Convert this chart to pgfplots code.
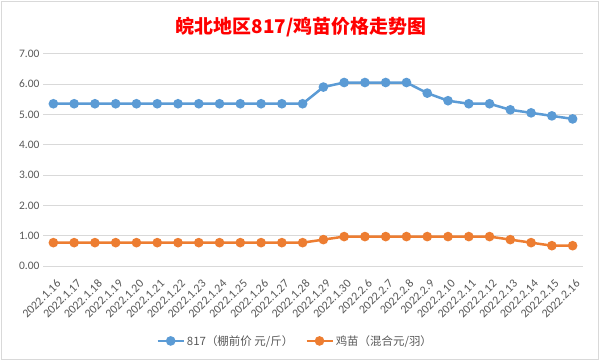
\documentclass[border=0pt]{standalone}
\usepackage{pgfplots}
\pgfplotsset{compat=1.18}
\usepackage{fontspec}
\setmainfont{Carlito}
\newfontfamily\cjk{Noto Sans CJK SC}
\definecolor{bluec}{HTML}{5B9BD5}
\definecolor{orangec}{HTML}{ED7D31}
\definecolor{gridc}{HTML}{D9D9D9}
\definecolor{txt}{HTML}{595959}
\begin{document}
\begin{tikzpicture}[x=1bp,y=1bp]
\path[use as bounding box, fill=white] (0,0) rectangle (602,363);
\draw[gridc, line width=0.75bp] (1.5,3.5) rectangle (598.5,361.5);
\begin{axis}[
  at={(43bp,97bp)}, anchor=south west,
  scale only axis, width=540bp, height=212.3bp,
  xmin=-0.5, xmax=25.5, ymin=0, ymax=7,
  axis line style={draw=none},
  ymajorgrids, grid style={gridc, line width=0.75bp},
  ytick={0,1,2,3,4,5,6,7},
  xtick={0,...,25},
  xticklabels={2022.1.16,2022.1.17,2022.1.18,2022.1.19,2022.1.20,2022.1.21,2022.1.22,2022.1.23,2022.1.24,2022.1.25,2022.1.26,2022.1.27,2022.1.28,2022.1.29,2022.1.30,2022.2.6,2022.2.7,2022.2.8,2022.2.9,2022.2.10,2022.2.11,2022.2.12,2022.2.13,2022.2.14,2022.2.15,2022.2.16},
  xticklabel style={xshift=6bp, yshift=-15bp, rotate=45, anchor=east, font=\fontsize{12}{14}\selectfont, text=txt, inner sep=1bp},
  yticklabel style={font=\fontsize{11.5}{13}\selectfont, text=txt},
  /pgf/number format/assume math mode=true,
  y tick label style={/pgf/number format/.cd, fixed, fixed zerofill, precision=2},
  major tick length=0pt,
  clip=false,
  legend columns=2,
  legend style={at={(0.467,-0.353)}, anchor=center, draw=none, fill=none,
    font=\cjk\fontsize{11.5}{13}\selectfont, text=txt,
    /tikz/every even column/.append style={column sep=10bp}},
  legend image code/.code={
    \draw[#1, line width=2.5bp] (0bp,0bp) -- (26bp,0bp);
    \fill[#1] (13bp,0bp) circle (3.5bp);
  },
]
\addplot[bluec, line width=2.5bp, mark=*, mark size=3.5bp, mark options={fill=bluec, draw=bluec}] coordinates {
(0,5.35)(1,5.35)(2,5.35)(3,5.35)(4,5.35)(5,5.35)(6,5.35)(7,5.35)(8,5.35)(9,5.35)(10,5.35)(11,5.35)(12,5.35)
(13,5.90)(14,6.05)(15,6.05)(16,6.05)(17,6.05)(18,5.70)(19,5.45)(20,5.35)(21,5.35)(22,5.15)(23,5.05)(24,4.95)(25,4.85)};
\addlegendentry{817（棚前价 元/斤）}
\addplot[orangec, line width=2.5bp, mark=*, mark size=3.5bp, mark options={fill=orangec, draw=orangec}] coordinates {
(0,0.77)(1,0.77)(2,0.77)(3,0.77)(4,0.77)(5,0.77)(6,0.77)(7,0.77)(8,0.77)(9,0.77)(10,0.77)(11,0.77)(12,0.77)
(13,0.87)(14,0.97)(15,0.97)(16,0.97)(17,0.97)(18,0.97)(19,0.97)(20,0.97)(21,0.97)(22,0.87)(23,0.77)(24,0.67)(25,0.67)};
\addlegendentry{鸡苗（混合元/羽）}
\end{axis}
\node[text=red, font=\cjk\bfseries\fontsize{19}{22}\selectfont] at (301,336) {皖北地区817/鸡苗价格走势图};
\end{tikzpicture}
\end{document}
